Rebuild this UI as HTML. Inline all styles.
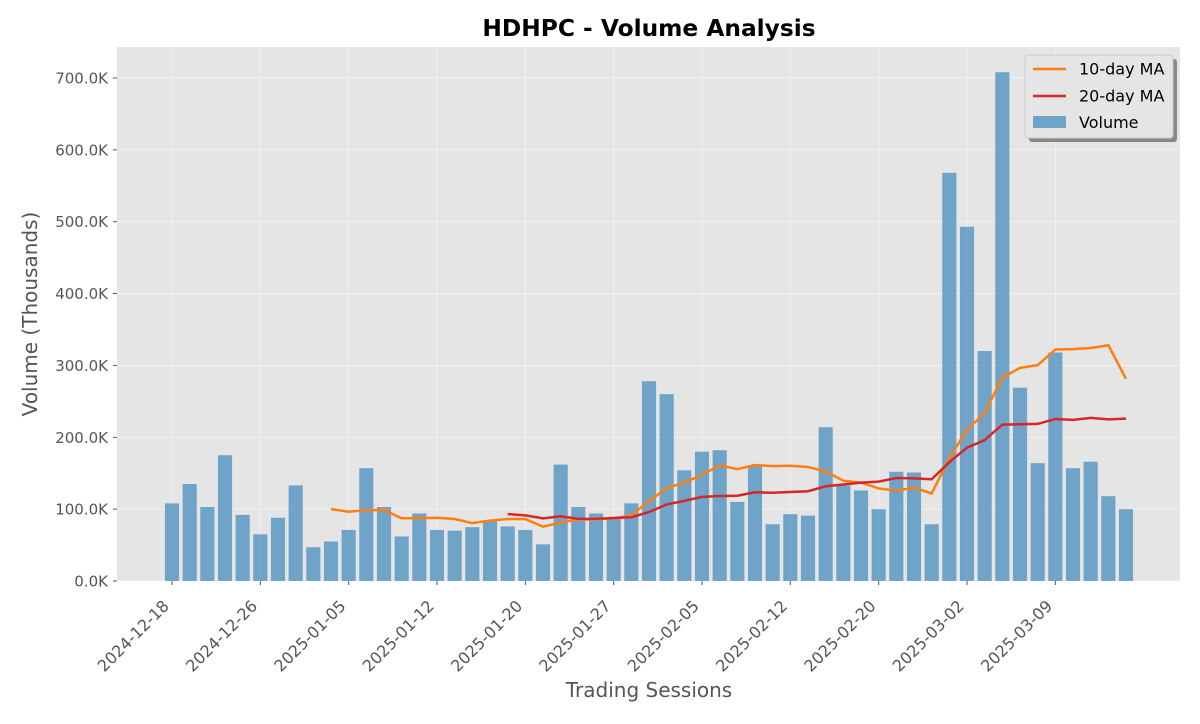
<!DOCTYPE html>
<html><head><meta charset="utf-8"><style>
body{margin:0;background:#fff;font-family:"DejaVu Sans","Liberation Sans",sans-serif;}
</style></head><body>
<svg id="chart" width="1200" height="720" xmlns="http://www.w3.org/2000/svg" font-family="DejaVu Sans, Liberation Sans, sans-serif"></svg>
<script>
const dates=["2024-12-18","2024-12-26","2025-01-05","2025-01-12","2025-01-20","2025-01-27","2025-02-05","2025-02-12","2025-02-20","2025-03-02","2025-03-09"];
const tickIdx=[0,5,10,15,20,25,30,35,40,45,50];
const volume=[108,135,103,175,92,65,88,133,47,55,71,157,103,62,94,71,70,75,83,76,71,51,162,103,94,88,108,278,260,154,180,182,110,160,79,93,91,214,133,126,100,152,151,79,568,493,320,708,269,164,318,157,166,118,100];
const yTicks=[0,100,200,300,400,500,600,700];
const NS="http://www.w3.org/2000/svg";
const svg=document.getElementById('chart');
const L=117,R=1180,T=47,B=581;
const x0=172,step=(1126-172)/54;
const xs=i=>x0+i*step;
const ys=v=>B-v*(503/700);
function mk(t,a,p){const e=document.createElementNS(NS,t);for(const k in a)e.setAttribute(k,a[k]);(p||svg).appendChild(e);return e;}
let e;
e=mk('rect',{x:L,y:T,width:R-L,height:B-T,fill:'#e5e5e5'});


yTicks.forEach(v=>{
 e=mk('line',{x1:L,x2:R,y1:ys(v),y2:ys(v),stroke:'#fff','stroke-width':0.8,opacity:0.6});
 
 
 e=mk('text',{x:L-9,y:ys(v)+5.5,'text-anchor':'end','font-size':15,fill:'#555'});e.textContent=v.toFixed(1)+'K';
 
 
 mk('line',{x1:L-4,x2:L,y1:ys(v),y2:ys(v),stroke:'#555'});
});
tickIdx.forEach((ix,k)=>{
 const x=xs(ix);
 e=mk('line',{x1:x,x2:x,y1:T,y2:B,stroke:'#fff','stroke-width':0.8,opacity:0.6});
 
 
 mk('line',{x1:x,x2:x,y1:B,y2:B+4,stroke:'#555'});
 const tx=x-2,ty=B+26;
 e=mk('text',{x:tx,y:ty,'text-anchor':'end','font-size':16,fill:'#555',transform:`rotate(-45 ${tx} ${ty})`});e.textContent=dates[k];
 
 
});
const bw=step*0.8;
volume.forEach((v,i)=>{
 e=mk('rect',{x:xs(i)-bw/2,y:ys(v),width:bw,height:B-ys(v),fill:'#1f77b4','fill-opacity':0.6});
 
 
});
function ma(n){const o=[];for(let i=n-1;i<volume.length;i++){let s=0;for(let j=i-n+1;j<=i;j++)s+=volume[j];o.push([i,s/n]);}return o;}
function line(pts,c,name){
 e=mk('polyline',{points:pts.map(p=>xs(p[0])+','+ys(p[1])).join(' '),fill:'none',stroke:c,'stroke-width':2.5});
 
 
}
line(ma(10),'#ff7f0e','ma10-line');
line(ma(20),'#d62728','ma20-line');
e=mk('text',{x:649,y:36,'text-anchor':'middle','font-size':23.3,'font-weight':'bold',fill:'#000'});e.textContent='HDHPC - Volume Analysis';


e=mk('text',{x:649,y:697,'text-anchor':'middle','font-size':20,fill:'#555'});e.textContent='Trading Sessions';


e=mk('text',{x:37,y:314,'text-anchor':'middle','font-size':20,fill:'#555',transform:'rotate(-90 37 314)'});e.textContent='Volume (Thousands)';


const g=mk('g',{});


mk('rect',{x:1029,y:59,width:148,height:83,rx:3,fill:'#888'},g);
mk('rect',{x:1025,y:55,width:148,height:83,rx:3,fill:'#e5e5e5',stroke:'#ccc'},g);
[['10-day MA','#ff7f0e',69],['20-day MA','#d62728',96]].forEach(d=>{
 mk('line',{x1:1033,x2:1066,y1:d[2],y2:d[2],stroke:d[1],'stroke-width':2.5},g);
 e=mk('text',{x:1079,y:d[2]+5.5,'font-size':16,fill:'#000'},g);e.textContent=d[0];
 
 
});
mk('rect',{x:1033,y:116,width:33,height:12,fill:'#1f77b4','fill-opacity':0.6},g);
e=mk('text',{x:1079,y:128,'font-size':16,fill:'#000'},g);e.textContent='Volume';


</script>
</body></html>
